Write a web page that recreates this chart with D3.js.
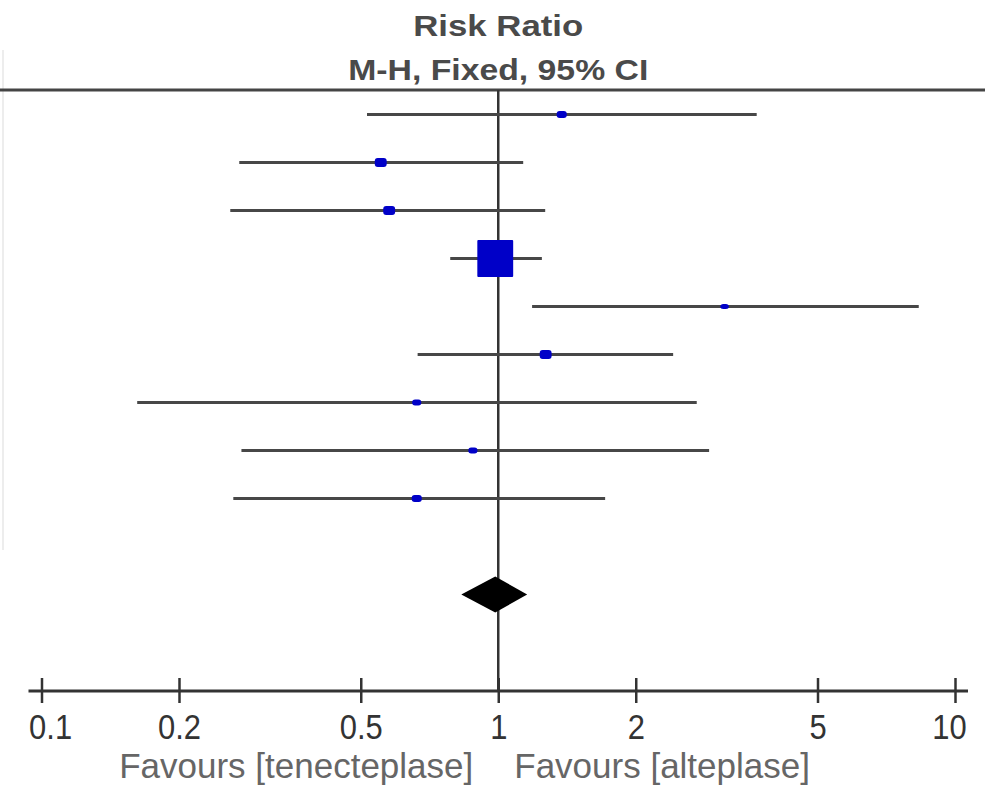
<!DOCTYPE html>
<html>
<head>
<meta charset="utf-8">
<script src="https://cdn.jsdelivr.net/npm/d3@7"></script>
<style>
  body { margin: 0; background: #fff; }
  svg { display: block; }
</style>
</head>
<body>
<script>
// forest plot values (risk ratio, 95% CI, weight %)
var rr     = [1.377, 0.553, 0.577, 0.985, 3.13, 1.27, 0.663, 0.880, 0.663];
var lower  = [0.516, 0.271, 0.259, 0.785, 1.186, 0.666, 0.162, 0.274, 0.263];
var upper  = [3.68, 1.134, 1.267, 1.246, 8.33, 2.415, 2.72, 2.895, 1.714];
var weight = [2.2, 4.0, 4.0, 79.6, 1.0, 4.0, 1.5, 1.5, 2.2];

// pooled estimate
var total = { rr: 0.985, lower: 0.83, upper: 1.157, row: 10 };

var tickValues = [0.1, 0.2, 0.5, 1, 2, 5, 10];
var tickLabels = ["0.1", "0.2", "0.5", "1", "2", "5", "10"];
var title1 = "Risk Ratio",
    title2 = "M-H, Fixed, 95% CI",
    favLeft = "Favours [tenecteplase]",
    favRight = "Favours [alteplase]";

var width = 995,
    height = 789,
    axisY = 691,
    topY = 90;

var svg = d3.select("body").append("svg")
    .attr("width", width)
    .attr("height", height);

var x = d3.scaleLog()
    .domain([0.1, 10])
    .range([41.5, 955]);

var y = d3.scaleLinear()
    .domain([0, 10])
    .range([114.5, 594.5]);

var size = d3.scaleSqrt()
    .domain([0, d3.max(weight)])
    .range([0, 36]);

// header
svg.append("text")
    .attr("x", x(1))
    .attr("y", 36)
    .attr("text-anchor", "middle")
    .attr("textLength", 170)
    .attr("lengthAdjust", "spacingAndGlyphs")
    .style("font-family", "'Liberation Sans', Arial, sans-serif")
    .style("font-weight", "bold")
    .style("font-size", "29px")
    .style("fill", "#4a4a4a")
    .text(title1);

svg.append("text")
    .attr("x", x(1))
    .attr("y", 80)
    .attr("text-anchor", "middle")
    .attr("textLength", 300)
    .attr("lengthAdjust", "spacingAndGlyphs")
    .style("font-family", "'Liberation Sans', Arial, sans-serif")
    .style("font-weight", "bold")
    .style("font-size", "30px")
    .style("fill", "#4a4a4a")
    .text(title2);

// faint edge left over from the crop
svg.append("line")
    .attr("x1", 3).attr("x2", 3)
    .attr("y1", 50).attr("y2", 550)
    .style("stroke", "#ededed")
    .style("stroke-width", 2);

// rule under header
svg.append("line")
    .attr("x1", 0).attr("x2", 985)
    .attr("y1", topY).attr("y2", topY)
    .style("stroke", "#444")
    .style("stroke-width", 3);

// line of no effect
svg.append("line")
    .attr("x1", x(1)).attr("x2", x(1))
    .attr("y1", topY).attr("y2", axisY)
    .style("stroke", "#333")
    .style("stroke-width", 2.5);

var rows = rr.map(function(d, i) {
    return { rr: d, lower: lower[i], upper: upper[i], weight: weight[i], row: i };
});

var g = svg.append("g");

// confidence intervals
g.selectAll("line.ci")
    .data(rows)
    .enter()
    .append("line")
    .attr("class", "ci")
    .attr("x1", function(d) { return x(d.lower); })
    .attr("x2", function(d) { return x(d.upper); })
    .attr("y1", function(d) { return y(d.row); })
    .attr("y2", function(d) { return y(d.row); })
    .style("stroke", "#474747")
    .style("stroke-width", 3);

// study markers (blurred in the source, so a bit wider than tall)
g.selectAll("rect.box")
    .data(rows)
    .enter()
    .append("rect")
    .attr("class", "box")
    .attr("width", function(d) { var s = size(d.weight); return s + 5 - s / 7; })
    .attr("height", function(d) { return size(d.weight) + 1; })
    .attr("x", function(d) { var s = size(d.weight); return x(d.rr) - (s + 5 - s / 7) / 2; })
    .attr("y", function(d) { return y(d.row) - (size(d.weight) + 1) / 2; })
    .attr("rx", function(d) { return size(d.weight) > 20 ? 1 : 3; })
    .style("fill", "#0000c8");

// pooled diamond
var dh = 18;
svg.append("path")
    .attr("d", "M" + x(total.lower) + "," + y(total.row) +
               "L" + x(total.rr) + "," + (y(total.row) - dh) +
               "L" + x(total.upper) + "," + y(total.row) +
               "L" + x(total.rr) + "," + (y(total.row) + dh) + "Z")
    .style("fill", "#000");

// x axis
var axis = d3.axisBottom(x)
    .tickValues(tickValues)
    .tickFormat(function(d, i) { return tickLabels[i]; })
    .tickSize(12)
    .tickSizeOuter(0)
    .tickPadding(10);

var ax = svg.append("g")
    .attr("transform", "translate(0," + axisY + ")")
    .call(axis);

ax.select(".domain").remove();
ax.selectAll(".tick line")
    .attr("y1", -13)
    .style("stroke", "#333")
    .style("stroke-width", 2.5);
ax.selectAll(".tick text")
    .style("font-family", "'Liberation Sans', Arial, sans-serif")
    .style("font-size", "36px")
    .style("fill", "#333")
    .attr("transform", "scale(0.86,1)")
    .attr("dx", function(d, i) { return i == 0 ? 10 : (i == tickValues.length - 1 ? -7 : 0); });

ax.append("line")
    .attr("x1", x(0.1) - 13).attr("x2", x(10) + 13)
    .attr("y1", 0).attr("y2", 0)
    .style("stroke", "#333")
    .style("stroke-width", 3);

// favours labels
svg.append("text")
    .attr("x", x(1) - 25)
    .attr("y", 778)
    .attr("text-anchor", "end")
    .style("font-family", "'Liberation Sans', Arial, sans-serif")
    .style("font-size", "35px")
    .style("fill", "#666")
    .text(favLeft);

svg.append("text")
    .attr("x", x(1) + 16)
    .attr("y", 778)
    .attr("text-anchor", "start")
    .style("font-family", "'Liberation Sans', Arial, sans-serif")
    .style("font-size", "35px")
    .style("fill", "#666")
    .text(favRight);
</script>
</body>
</html>
